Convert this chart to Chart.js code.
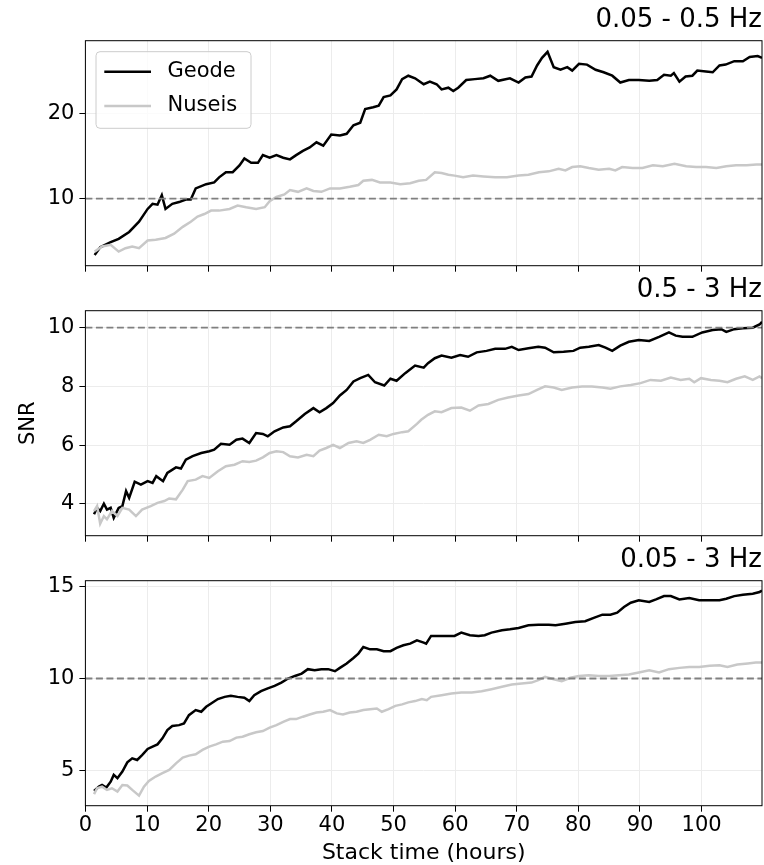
<!DOCTYPE html>
<html>
<head>
<meta charset="utf-8">
<script src="https://cdn.jsdelivr.net/npm/chart.js@4.4.1/dist/chart.umd.min.js"></script>
<style>
  html, body { margin: 0; padding: 0; background: #ffffff; }
  #wrap { position: relative; width: 764px; height: 865px; overflow: hidden; }
  #wrap canvas { position: absolute; left: 0; top: 0; }
</style>
</head>
<body>
<div id="wrap">
  <canvas id="c1" width="764" height="865"></canvas>
  <canvas id="c2" width="764" height="865"></canvas>
  <canvas id="c3" width="764" height="865"></canvas>
</div>
<script>
// ---------------- data (hours, SNR) ----------------
const seriesNames = ['Geode', 'Nuseis'];
const bandTitles = ['0.05 - 0.5 Hz', '0.5 - 3 Hz', '0.05 - 3 Hz'];
const xAxisLabel = 'Stack time (hours)';
const yAxisLabel = 'SNR';
const snrThreshold = 10;
const hoursRange = [0, 109.8];
const xTickStep = 10;
const yTickSteps = [10, 2, 5];
const yRanges = [[2.15, 28.5], [2.91, 10.58], [3.07, 15.33]];

const geodeLow = [[1.5,3.4],[2.4,4.3],[4.1,4.9],[5.4,5.3],[7.1,6.1],[8.7,7.3],[10.1,8.8],[10.9,9.4],[11.7,9.3],[12.4,10.4],[13.0,8.8],[14.1,9.4],[15.2,9.6],[16.3,9.9],[17.1,9.9],[17.9,11.2],[19.6,11.7],[20.9,11.9],[21.7,12.5],[22.8,13.1],[23.9,13.1],[25.0,13.9],[25.8,14.7],[26.9,14.2],[28.0,14.2],[28.8,15.1],[29.9,14.8],[31.0,15.1],[32.1,14.8],[33.2,14.6],[34.2,15.1],[35.3,15.6],[36.4,16.0],[37.5,16.6],[38.6,16.2],[39.9,17.5],[41.3,17.4],[42.4,17.6],[43.5,18.6],[44.6,18.9],[45.4,20.5],[46.7,20.7],[47.6,20.9],[48.4,21.9],[49.5,22.1],[50.5,22.8],[51.4,24.0],[52.4,24.4],[53.5,24.1],[54.9,23.4],[55.9,23.7],[57.0,23.4],[57.8,22.8],[58.9,23.0],[59.7,22.6],[60.5,23.0],[61.8,23.9],[63.2,24.0],[64.6,24.1],[65.7,24.4],[67.0,23.8],[68.9,24.1],[70.3,23.6],[71.4,24.2],[72.4,24.3],[73.3,25.6],[74.1,26.5],[75.0,27.2],[76.0,25.4],[77.1,25.1],[78.2,25.4],[79.0,25.0],[80.1,25.8],[81.4,25.7],[82.8,25.1],[84.1,24.8],[85.5,24.4],[86.8,23.6],[88.2,23.9],[89.8,23.9],[91.5,23.8],[92.8,23.9],[93.9,24.5],[95.0,24.4],[95.5,24.7],[96.4,23.7],[97.4,24.3],[98.5,24.4],[99.3,25.0],[100.7,24.9],[101.8,24.8],[102.9,25.6],[103.9,25.7],[105.3,26.1],[106.7,26.1],[107.8,26.6],[109.1,26.7],[109.8,26.5]];

const nuseisLow = [[1.5,3.8],[2.7,4.4],[4.1,4.6],[5.4,3.8],[6.5,4.2],[7.6,4.4],[8.7,4.2],[10.1,5.1],[11.4,5.2],[13.0,5.4],[14.4,5.9],[15.8,6.7],[17.1,7.3],[18.2,7.9],[19.3,8.2],[20.4,8.6],[21.7,8.6],[23.4,8.8],[24.7,9.2],[26.1,9.0],[27.7,8.8],[29.1,9.0],[29.9,9.7],[31.0,10.2],[32.3,10.5],[33.2,11.0],[34.5,10.8],[35.9,11.2],[37.0,10.9],[38.3,10.8],[39.7,11.2],[41.3,11.2],[42.9,11.4],[44.3,11.6],[45.1,12.1],[46.5,12.2],[47.8,11.9],[49.5,11.9],[51.1,11.7],[52.7,11.8],[54.1,12.1],[55.3,12.2],[56.7,13.1],[57.8,13.0],[58.9,12.8],[59.9,12.7],[61.3,12.5],[62.9,12.7],[64.6,12.6],[66.5,12.5],[68.4,12.5],[70.3,12.7],[71.9,12.8],[73.6,13.1],[75.2,13.2],[76.8,13.5],[77.9,13.3],[79.0,13.7],[80.3,13.8],[81.7,13.6],[83.3,13.4],[85.0,13.5],[86.0,13.3],[87.1,13.7],[88.8,13.6],[90.4,13.6],[92.1,13.9],[93.7,13.8],[95.6,14.1],[97.5,13.8],[99.1,13.7],[100.7,13.7],[102.4,13.6],[104.0,13.8],[105.6,13.9],[107.3,13.9],[108.9,14.0],[109.8,14.0]];

const geodeMid = [[1.4,3.64],[1.9,3.86],[2.4,3.75],[3.0,4.0],[3.5,3.8],[4.1,3.86],[4.6,3.52],[5.4,3.86],[6.0,3.92],[6.6,4.43],[7.1,4.2],[8.0,4.75],[9.0,4.65],[10.1,4.77],[10.9,4.71],[11.5,4.94],[12.6,4.77],[13.3,5.05],[14.7,5.24],[15.5,5.2],[16.3,5.5],[17.4,5.62],[18.8,5.73],[20.1,5.79],[20.9,5.84],[22.0,6.04],[23.4,6.01],[24.5,6.18],[25.5,6.22],[26.6,6.07],[27.7,6.41],[28.8,6.38],[29.6,6.3],[30.7,6.47],[32.1,6.6],[33.2,6.64],[34.2,6.81],[35.6,7.06],[37.0,7.26],[38.0,7.12],[39.1,7.26],[40.2,7.43],[41.3,7.69],[42.4,7.88],[43.5,8.17],[44.6,8.28],[45.9,8.39],[47.0,8.14],[48.5,8.03],[49.5,8.26],[50.5,8.19],[51.9,8.45],[53.5,8.71],[54.9,8.64],[55.6,8.79],[56.7,8.96],[57.8,9.05],[59.4,8.98],[60.8,9.07],[62.1,9.01],[63.5,9.16],[65.1,9.21],[66.5,9.28],[68.1,9.28],[69.2,9.35],[70.3,9.24],[71.9,9.3],[73.5,9.35],[74.6,9.32],[76.0,9.16],[77.6,9.18],[79.2,9.21],[80.3,9.32],[81.7,9.35],[83.3,9.41],[84.4,9.32],[85.5,9.21],[86.8,9.39],[88.2,9.52],[89.8,9.58],[91.5,9.55],[93.1,9.69],[94.7,9.84],[95.8,9.73],[96.9,9.69],[98.5,9.69],[100.1,9.84],[101.8,9.92],[103.2,9.95],[104.0,9.86],[105.3,9.95],[106.7,9.98],[108.3,10.0],[109.4,10.11],[109.8,10.2]];

const nuseisMid = [[1.4,3.75],[1.9,3.92],[2.4,3.32],[3.0,3.58],[3.5,3.47],[4.3,3.75],[5.2,3.58],[6.0,3.86],[7.1,3.8],[8.2,3.58],[9.2,3.8],[10.6,3.92],[11.7,4.03],[12.8,4.09],[13.6,4.18],[14.7,4.15],[15.8,4.48],[16.6,4.77],[17.9,4.82],[19.0,4.94],[20.1,4.88],[21.5,5.11],[22.8,5.28],[24.2,5.33],[25.5,5.45],[26.6,5.42],[27.7,5.47],[28.8,5.58],[29.9,5.73],[31.0,5.79],[32.1,5.76],[33.2,5.62],[34.5,5.58],[35.9,5.67],[37.0,5.62],[38.0,5.81],[39.1,5.9],[40.2,6.01],[41.3,5.9],[42.7,6.07],[44.0,6.13],[45.1,6.07],[46.2,6.18],[47.6,6.35],[48.9,6.3],[50.0,6.38],[51.4,6.44],[52.4,6.47],[53.8,6.72],[54.5,6.86],[55.6,7.03],[56.7,7.15],[57.8,7.12],[59.4,7.26],[61.0,7.28],[62.4,7.17],[63.8,7.35],[65.4,7.4],[67.0,7.54],[68.6,7.62],[70.3,7.69],[71.9,7.74],[73.3,7.88],[74.6,8.0],[76.0,7.96],[77.3,7.88],[79.0,7.96],[80.6,8.0],[82.2,8.0],[83.9,7.96],[85.2,7.92],[86.8,8.0],[88.5,8.05],[90.1,8.11],[91.7,8.22],[93.4,8.19],[95.0,8.3],[96.6,8.22],[98.0,8.26],[98.8,8.14],[99.9,8.28],[101.5,8.22],[102.9,8.19],[104.2,8.14],[105.6,8.26],[107.0,8.34],[108.3,8.22],[109.4,8.34],[109.8,8.28]];

const geodeWide = [[1.4,3.88],[2.2,4.11],[2.7,4.2],[3.4,4.06],[4.1,4.38],[4.6,4.75],[5.2,4.57],[6.0,4.93],[6.8,5.43],[7.6,5.65],[8.4,5.56],[9.2,5.83],[10.1,6.16],[10.9,6.29],[11.7,6.41],[12.5,6.74],[13.3,7.19],[14.1,7.41],[15.2,7.46],[16.0,7.55],[16.8,8.0],[17.9,8.28],[18.8,8.19],[19.6,8.46],[20.4,8.64],[21.5,8.88],[22.6,9.0],[23.6,9.06],[24.7,9.0],[25.8,8.95],[26.6,8.77],[27.4,9.09],[28.5,9.31],[29.6,9.46],[30.7,9.6],[31.8,9.78],[32.9,10.0],[34.0,10.14],[35.1,10.27],[36.1,10.51],[37.2,10.45],[38.3,10.51],[39.4,10.51],[40.5,10.4],[41.3,10.58],[42.4,10.82],[43.5,11.12],[44.3,11.36],[45.1,11.72],[46.2,11.59],[47.3,11.59],[48.4,11.49],[49.5,11.49],[50.5,11.67],[51.6,11.81],[52.7,11.9],[53.8,12.08],[54.9,11.96],[55.3,11.9],[56.1,12.32],[57.2,12.32],[58.6,12.32],[59.9,12.32],[61.0,12.5],[62.4,12.36],[63.8,12.32],[64.8,12.36],[65.9,12.5],[67.6,12.63],[68.9,12.68],[70.3,12.75],[71.9,12.9],[73.5,12.93],[75.2,12.93],[76.3,12.9],[77.9,12.99],[79.5,13.08],[81.1,13.12],[82.5,13.3],[83.9,13.48],[85.2,13.48],[86.3,13.59],[87.4,13.9],[88.5,14.13],[89.8,14.26],[91.5,14.17],[92.6,14.31],[93.9,14.49],[95.0,14.49],[96.4,14.31],[98.0,14.38],[99.6,14.26],[101.3,14.26],[102.9,14.26],[104.0,14.35],[105.3,14.49],[106.7,14.57],[108.3,14.62],[109.4,14.71],[109.8,14.8]];

const nuseisWide = [[1.4,3.7],[1.9,4.02],[2.7,4.11],[3.5,3.93],[4.3,4.02],[5.2,3.84],[6.0,4.2],[6.8,4.17],[7.6,3.93],[8.7,3.62],[9.5,4.11],[10.3,4.42],[11.4,4.66],[12.5,4.84],[13.6,5.02],[14.7,5.38],[15.8,5.69],[16.8,5.8],[17.9,5.87],[19.0,6.11],[20.1,6.29],[21.2,6.41],[22.3,6.56],[23.4,6.59],[24.5,6.78],[25.5,6.83],[26.6,6.96],[27.7,7.07],[28.8,7.14],[29.9,7.32],[31.0,7.46],[32.1,7.64],[33.2,7.79],[34.2,7.79],[35.3,7.92],[36.4,8.04],[37.5,8.15],[38.6,8.19],[39.7,8.28],[40.8,8.1],[41.8,8.04],[42.9,8.15],[44.0,8.19],[45.1,8.28],[46.2,8.33],[47.3,8.37],[48.1,8.19],[49.2,8.33],[50.3,8.51],[51.4,8.59],[52.4,8.7],[53.5,8.77],[54.6,8.88],[55.4,8.82],[56.1,9.0],[57.8,9.09],[59.4,9.18],[61.0,9.24],[62.7,9.24],[64.3,9.31],[65.9,9.42],[67.6,9.55],[69.2,9.67],[70.8,9.73],[72.4,9.78],[73.5,9.91],[74.6,10.09],[76.0,9.96],[77.3,9.86],[78.7,10.04],[80.1,10.14],[81.7,10.18],[83.3,10.14],[85.0,10.14],[86.6,10.18],[88.2,10.22],[89.8,10.33],[91.5,10.45],[93.1,10.33],[94.7,10.51],[96.4,10.58],[98.0,10.63],[99.6,10.63],[101.3,10.69],[102.9,10.72],[104.2,10.63],[105.8,10.76],[107.5,10.82],[108.8,10.87],[109.8,10.87]];

// ---------------- styling / layout ----------------
const FONT = 'DejaVu Sans';
const GEODE_COLOR = '#000000';
const NUSEIS_COLOR = '#c8c8c8';
const GRID_COLOR = '#ececec';
const CANVAS_H = 865;
const PANEL_H = 225;
const PLOT_LEFT = 85.4;
const RIGHT_PAD = 2;
const TITLE_BLOCK = 40.7;

const panels = [
  { id: 'c1', title: bandTitles[0], geode: geodeLow,  nuseis: nuseisLow,  y: yRanges[0], step: yTickSteps[0], top: 40.7,  legend: true,  yTitle: false, xLabels: false },
  { id: 'c2', title: bandTitles[1], geode: geodeMid,  nuseis: nuseisMid,  y: yRanges[1], step: yTickSteps[1], top: 310.7, legend: false, yTitle: true,  xLabels: false },
  { id: 'c3', title: bandTitles[2], geode: geodeWide, nuseis: nuseisWide, y: yRanges[2], step: yTickSteps[2], top: 580.7, legend: false, yTitle: false, xLabels: true }
];

const toPoints = arr => arr.map(p => ({ x: p[0], y: p[1] }));

const framePlugin = {
  id: 'frame',
  afterDatasetsDraw(chart) {
    const { ctx, chartArea: a } = chart;
    ctx.save();
    ctx.strokeStyle = '#000';
    ctx.lineWidth = 1;
    ctx.strokeRect(a.left, a.top, a.right - a.left, a.bottom - a.top);
    ctx.restore();
  }
};

const boxLegendPlugin = {
  id: 'boxLegend',
  afterDraw(chart, args, opts) {
    if (!opts.show) return;
    const { ctx, chartArea: a } = chart;
    const x0 = a.left + 10.6, y0 = a.top + 11, w = 155, h = 76.6, r = 4;
    ctx.save();
    ctx.beginPath();
    ctx.moveTo(x0 + r, y0);
    ctx.lineTo(x0 + w - r, y0);
    ctx.arcTo(x0 + w, y0, x0 + w, y0 + r, r);
    ctx.lineTo(x0 + w, y0 + h - r);
    ctx.arcTo(x0 + w, y0 + h, x0 + w - r, y0 + h, r);
    ctx.lineTo(x0 + r, y0 + h);
    ctx.arcTo(x0, y0 + h, x0, y0 + h - r, r);
    ctx.lineTo(x0, y0 + r);
    ctx.arcTo(x0, y0, x0 + r, y0, r);
    ctx.closePath();
    ctx.fillStyle = 'rgba(255,255,255,0.8)';
    ctx.fill();
    ctx.strokeStyle = '#cccccc';
    ctx.lineWidth = 1;
    ctx.stroke();
    const items = seriesNames.map(n => chart.data.datasets.find(d => d.label === n));
    items.forEach((d, i) => {
      const yy = y0 + 20 + i * 34.3;
      ctx.beginPath();
      ctx.moveTo(x0 + 8.3, yy);
      ctx.lineTo(x0 + 55, yy);
      ctx.strokeStyle = d.borderColor;
      ctx.lineWidth = d.borderWidth;
      ctx.stroke();
      ctx.fillStyle = '#000';
      ctx.font = '21px "' + FONT + '"';
      ctx.textAlign = 'left';
      ctx.textBaseline = 'middle';
      ctx.fillText(d.label, x0 + 71.5, yy - 0.5);
    });
    ctx.restore();
  }
};

panels.forEach(p => {
  const bottom = p.top + PANEL_H;
  const xAxisH = p.xLabels ? (CANVAS_H - bottom) : 6;
  const padBottom = CANVAS_H - bottom - xAxisH;
  new Chart(document.getElementById(p.id), {
    type: 'line',
    data: {
      datasets: [
        {
          label: 'threshold',
          data: [{ x: hoursRange[0], y: snrThreshold }, { x: hoursRange[1], y: snrThreshold }],
          borderColor: '#808080', borderWidth: 1.8, borderDash: [7, 3.5],
          pointRadius: 0, order: 0
        },
        {
          label: seriesNames[1], data: toPoints(p.nuseis),
          borderColor: NUSEIS_COLOR, borderWidth: 2.5, pointRadius: 0,
          tension: 0, order: 1
        },
        {
          label: seriesNames[0], data: toPoints(p.geode),
          borderColor: GEODE_COLOR, borderWidth: 2.5, pointRadius: 0,
          tension: 0, order: 2
        }
      ]
    },
    options: {
      responsive: false,
      animation: false,
      devicePixelRatio: 1,
      events: [],
      layout: { padding: { top: p.top - TITLE_BLOCK, bottom: padBottom, left: 0, right: RIGHT_PAD } },
      plugins: {
        legend: { display: false },
        tooltip: { enabled: false },
        title: {
          display: true, text: p.title, align: 'end', color: '#000',
          font: { family: FONT, size: 26, weight: 'normal', lineHeight: 1.2 },
          padding: { top: 4.7, bottom: 4.8 }
        },
        boxLegend: { show: p.legend }
      },
      scales: {
        x: {
          type: 'linear', min: hoursRange[0], max: hoursRange[1],
          ticks: {
            display: p.xLabels, stepSize: xTickStep, includeBounds: false,
            color: '#000', font: { family: FONT, size: 21 }, padding: 1, maxRotation: 0
          },
          grid: { color: GRID_COLOR, lineWidth: 1, tickLength: 6, tickColor: '#000', tickWidth: 1 },
          border: { display: false },
          title: {
            display: p.xLabels, text: xAxisLabel, color: '#000',
            font: { family: FONT, size: 22, lineHeight: 1.0 }, padding: { top: 0, bottom: 0.5 }
          },
          afterFit(s) { s.height = xAxisH; s.paddingLeft = 0; s.paddingRight = 0; }
        },
        y: {
          type: 'linear', min: p.y[0], max: p.y[1],
          ticks: {
            stepSize: p.step, includeBounds: false, color: '#000',
            font: { family: FONT, size: 21 }, padding: 5
          },
          grid: { color: GRID_COLOR, lineWidth: 1, tickLength: 6, tickColor: '#000', tickWidth: 1 },
          border: { display: false },
          title: {
            display: p.yTitle, text: yAxisLabel, color: '#000',
            font: { family: FONT, size: 21 }, padding: { top: 16.4, bottom: 0 }
          },
          afterFit(s) { s.width = PLOT_LEFT; s.paddingTop = 0; s.paddingBottom = 0; }
        }
      }
    },
    plugins: [framePlugin, boxLegendPlugin]
  });
});
</script>
</body>
</html>
